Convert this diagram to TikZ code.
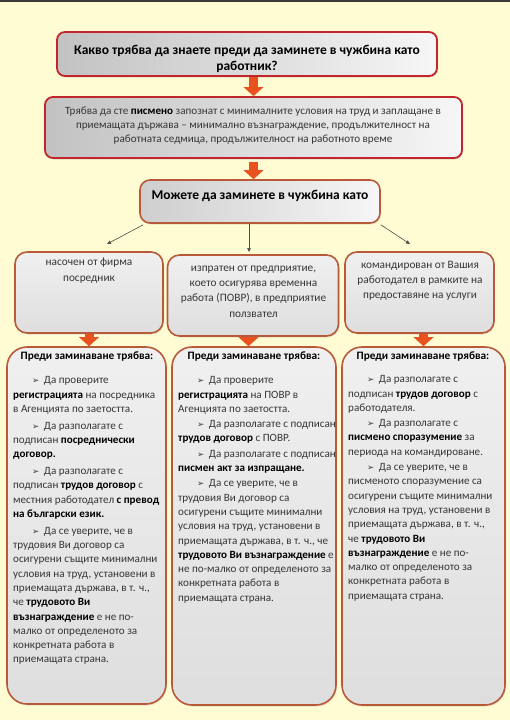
\documentclass[tikz,border=0pt]{standalone}
\usepackage{fontspec}
\setmainfont{Carlito}
\newfontfamily\dv{DejaVu Sans}
\usetikzlibrary{shadows,arrows.meta,calc}
\definecolor{bgc}{HTML}{FFFCD4}
\definecolor{redb}{HTML}{C0262C}
\definecolor{brb}{HTML}{B85A3A}
\definecolor{arrc}{HTML}{E8521F}
\definecolor{shL}{HTML}{C2C2C2}
\definecolor{shM}{HTML}{EAEAEA}
\definecolor{shR}{HTML}{F6F6F6}
\definecolor{rowT}{HTML}{F0F0F0}
\definecolor{rowB}{HTML}{DEDEDE}
\definecolor{textc}{HTML}{363636}
\definecolor{framec}{HTML}{3A3A3A}
\newcommand{\fst}{\rule{0pt}{10pt}}
\newcommand{\bl}{\hspace*{19pt}{\dv\fontsize{8.6}{8.6}\selectfont ➢}\hspace{4.5pt}}
\begin{document}
\begin{tikzpicture}[x=1pt,y=-1pt,
  redbox/.style={draw=redb, line width=1.8pt, rounded corners=8pt,
    left color=shL, middle color=shM, right color=shR,
    drop shadow={opacity=0.25,shadow xshift=1pt,shadow yshift=-1.5pt},
    inner sep=0pt},
  brbox/.style={draw=brb, line width=1.6pt, rounded corners=10pt,
    left color=shL!80!white, middle color=shM, right color=shR,
    drop shadow={opacity=0.2,shadow xshift=1pt,shadow yshift=-1.5pt},
    inner sep=0pt},
  midbox/.style={draw=brb, line width=1.6pt, rounded corners=12pt,
    top color=rowT, bottom color=rowB,
    drop shadow={opacity=0.2,shadow xshift=1pt,shadow yshift=-1.5pt},
    inner sep=0pt},
  lowbox/.style={draw=brb, line width=1.6pt, rounded corners=20pt,
    top color=rowT, bottom color=rowB,
    drop shadow={opacity=0.2,shadow xshift=1pt,shadow yshift=-1.5pt},
    inner sep=0pt},
  bigarr/.style={draw=arrc, line width=9pt,
    -{Triangle[length=9pt,width=20pt,line width=0pt]}},
  thinarr/.style={draw=black!70, line width=0.6pt,
    -{Triangle[length=4pt,width=3.5pt]}},
  ttl/.style={inner sep=0pt, align=center, text=black,
    font=\fontsize{13.5}{16}\selectfont\bfseries},
  midtxt/.style={inner sep=0pt, align=center, text=textc,
    font=\fontsize{11.1}{14}\selectfont},
  rowtxt/.style={inner sep=0pt, align=center, text=textc,
    font=\fontsize{11.3}{15.3}\selectfont},
  head/.style={inner sep=0pt, text=black,
    font=\fontsize{11.3}{14}\selectfont\bfseries},
  body/.style={inner sep=0pt, align=left, anchor=north west, text=textc,
    font=\fontsize{11.1}{14.3}\selectfont},
]
\useasboundingbox (0,0) rectangle (510,720);
\fill[bgc] (0,0) rectangle (510,720);
\fill[framec] (0,0) rectangle (510,2);

% boxes
\node[redbox, minimum width=380pt, minimum height=44pt] (b1) at (247,54) {};
\node[redbox, minimum width=417pt, minimum height=61pt] (b2) at (253.5,127.5) {};
\node[brbox, minimum width=240pt, minimum height=43pt] (b3) at (260,201.5) {};
\node[midbox, minimum width=148pt, minimum height=81pt] (A) at (89,292.5) {};
\node[midbox, minimum width=171pt, minimum height=81pt] (B) at (253,295.5) {};
\node[midbox, minimum width=149pt, minimum height=81pt] (C) at (419.5,292.5) {};
\node[lowbox, minimum width=159pt, minimum height=357pt] (rA) at (86.5,525.5) {};
\node[lowbox, minimum width=164pt, minimum height=358pt] (rB) at (254,526) {};
\node[lowbox, minimum width=163pt, minimum height=358pt] (rC) at (423.5,526) {};

% texts
\node[ttl, anchor=north] (t1) at (247,44) {\fst Какво трябва да знаете преди да заминете в чужбина като\\работник?};
\node[midtxt, anchor=north] (t2) at (253,104) {\fst Трябва да сте \textbf{\color{black}писмено} запознат с минималните условия на труд и заплащане в\\приемащата държава – минимално възнаграждение, продължителност на\\работната седмица, продължителност на работното време};
\node[ttl, anchor=base] (t3) at (260,199.5) {Можете да заминете в чужбина като};
\node[rowtxt, anchor=north] (tA) at (89,255.5) {\fst насочен от фирма\\посредник};
\node[rowtxt, anchor=north] (tB) at (253.5,261) {\fst изпратен от предприятие,\\което осигурява временна\\работа (ПОВР), в предприятие\\ползвател};
\node[rowtxt, anchor=north] (tC) at (420,258) {\fst командирован от Вашия\\работодател в рамките на\\предоставяне на услуги};

\node[head] (hA) at (87,357) {Преди заминаване трябва:};
\node[head] (hB) at (254,357) {Преди заминаване трябва:};
\node[head] (hC) at (423,357) {Преди заминаване трябва:};

\node[body] (bA) at (13,373.5) {\fst\bl Да проверите\\
\textbf{\color{black}регистрацията} на посредника\\
в Агенцията по заетостта.\\[2.5pt]
\bl Да разполагате с\\
подписан \textbf{\color{black}посреднически}\\
\textbf{\color{black}договор.}\\[2.5pt]
\bl Да разполагате с\\
подписан \textbf{\color{black}трудов договор} с\\
местния работодател \textbf{\color{black}с превод}\\
\textbf{\color{black}на български език.}\\[2.5pt]
\bl Да се уверите, че в\\
трудовия Ви договор са\\
осигурени същите минимални\\
условия на труд, установени в\\
приемащата държава, в т. ч.,\\
че \textbf{\color{black}трудовото Ви}\\
\textbf{\color{black}възнаграждение} е не по-\\
малко от определеното за\\
конкретната работа в\\
приемащата страна.};

\node[body] (bB) at (178,373.5) {\fst\bl Да проверите\\
\textbf{\color{black}регистрацията} на ПОВР в\\
Агенцията по заетостта.\\[1pt]
\bl Да разполагате с подписан\\
\textbf{\color{black}трудов договор} с ПОВР.\\[1pt]
\bl Да разполагате с подписан\\
\textbf{\color{black}писмен акт за изпращане.}\\[1pt]
\bl Да се уверите, че в\\
трудовия Ви договор са\\
осигурени същите минимални\\
условия на труд, установени в\\
приемащата държава, в т. ч., че\\
\textbf{\color{black}трудовото Ви възнаграждение} е\\
не по-малко от определеното за\\
конкретната работа в\\
приемащата страна.};

\node[body] (bC) at (348,372.5) {\fst\bl Да разполагате с\\
подписан \textbf{\color{black}трудов договор} с\\
работодателя.\\[1pt]
\bl Да разполагате с\\
\textbf{\color{black}писмено споразумение} за\\
периода на командироване.\\[1pt]
\bl Да се уверите, че в\\
писменото споразумение са\\
осигурени същите минимални\\
условия на труд, установени в\\
приемащата държава, в т. ч.,\\
че \textbf{\color{black}трудовото Ви}\\
\textbf{\color{black}възнаграждение} е не по-\\
малко от определеното за\\
конкретната работа в\\
приемащата страна.};

% connectors
\draw[bigarr] (b2.north |- b1.south) -- (b2.north);
\draw[bigarr] ([yshift=-3pt]b2.south) -- (b2.south |- b3.north);
\coordinate (pA) at (107,244);
\coordinate (pB) at (249,252);
\coordinate (pC) at (410,244);
\draw[thinarr] ([xshift=4pt,yshift=-1pt]b3.south west) -- (pA);
\draw[thinarr] (pB |- b3.south) -- (pB);
\draw[thinarr] ([yshift=-1pt]b3.south east) -- (pC);
\draw[bigarr] (A.south) -- (A.south |- rA.north);
\draw[bigarr] ([xshift=-4.5pt]B.south) -- ([xshift=-4.5pt]B.south |- rB.north);
\draw[bigarr] (rC.north |- C.south) -- (rC.north);
\end{tikzpicture}
\end{document}
